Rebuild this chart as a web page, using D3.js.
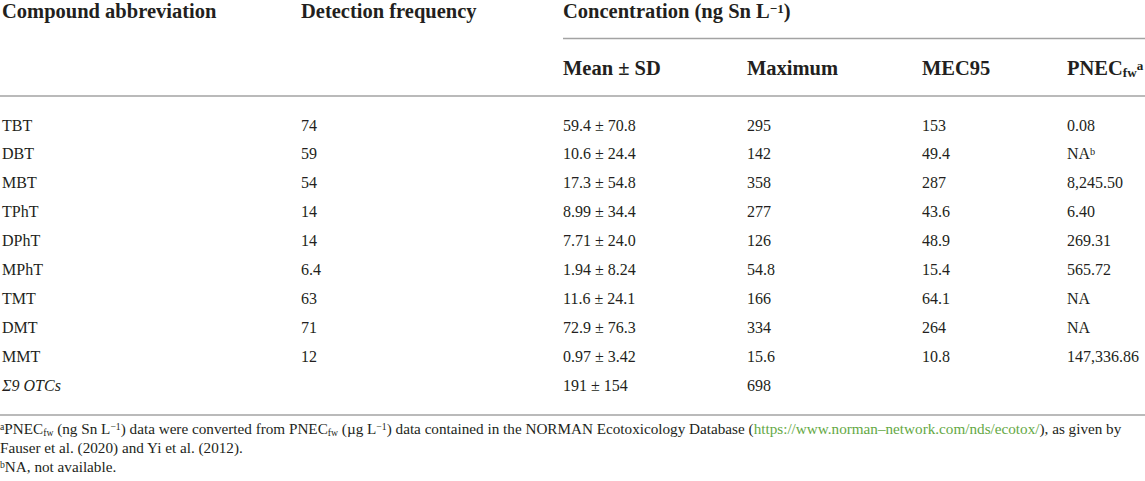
<!DOCTYPE html>
<html>
<head>
<meta charset="utf-8">
<script src="https://cdn.jsdelivr.net/npm/d3@7"></script>
<style>
  body { margin: 0; background: #fff; }
  svg { display: block; font-family: "Liberation Serif", "Times New Roman", serif; }
</style>
</head>
<body>
<div id="table"></div>
<script>
// table contents
const compounds = ["TBT", "DBT", "MBT", "TPhT", "DPhT", "MPhT", "TMT", "DMT", "MMT"];
const detectionFreq = ["74", "59", "54", "14", "14", "6.4", "63", "71", "12"];
const meanSD = ["59.4 ± 70.8", "10.6 ± 24.4", "17.3 ± 54.8", "8.99 ± 34.4", "7.71 ± 24.0",
  "1.94 ± 8.24", "11.6 ± 24.1", "72.9 ± 76.3", "0.97 ± 3.42"];
const maximum = ["295", "142", "358", "277", "126", "54.8", "166", "334", "15.6"];
const mec95 = ["153", "49.4", "287", "43.6", "48.9", "15.4", "64.1", "264", "10.8"];
const pnecFw = ["0.08", "NA", "8,245.50", "6.40", "269.31", "565.72", "NA", "NA", "147,336.86"];
const pnecNote = ["", "b", "", "", "", "", "", "", ""];

const totalLabel = "Σ9 OTCs";
const totalMean = "191 ± 154";
const totalMax = "698";

const columns = ["compound", "freq", "mean", "max", "mec", "pnec"];

const width = 1145, height = 481;
const textColor = "#231f20";
const ruleColor = "#a3a3a3";
const linkColor = "#64a844";

const svg = d3.select("#table").append("svg")
  .attr("width", width)
  .attr("height", height);

// column positions
const x = d3.scaleOrdinal()
  .domain(columns)
  .range([2, 301, 563, 747, 922, 1067]);

// body rows
const rowKeys = compounds.concat([totalLabel]);
const y = d3.scaleBand()
  .domain(rowKeys)
  .range([110.5, 399.5]);

// append rich text made of segments {t, s}
function rich(sel, parts) {
  parts.forEach((p) => {
    const ts = sel.append("tspan").text(p.t);
    if (p.s === "sup") ts.attr("baseline-shift", "40%").attr("font-size", "64%");
    if (p.s === "sub") ts.attr("baseline-shift", "-18%").attr("font-size", "64%");
    if (p.s === "link") ts.attr("fill", linkColor);
    if (p.s === "i") ts.attr("font-style", "italic");
  });
  return sel;
}

// rules
const rules = [
  { x1: 563, x2: width, y: 38.5 },
  { x1: 0, x2: width, y: 96 },
  { x1: 0, x2: width, y: 415 },
];
svg.selectAll("line.rule")
  .data(rules)
  .enter()
  .append("line")
  .attr("class", "rule")
  .attr("x1", (d) => d.x1)
  .attr("x2", (d) => d.x2)
  .attr("y1", (d) => d.y)
  .attr("y2", (d) => d.y)
  .attr("stroke", ruleColor)
  .attr("stroke-width", 1.6);

// header
const head = svg.append("g")
  .attr("font-weight", "bold")
  .attr("font-size", "20.5px")
  .attr("fill", textColor);

head.append("text").attr("x", x("compound")).attr("y", 18).text("Compound abbreviation");
head.append("text").attr("x", x("freq")).attr("y", 18).text("Detection frequency");
rich(head.append("text").attr("x", x("mean")).attr("y", 18), [
  { t: "Concentration (ng Sn L" }, { t: "−1", s: "sup" }, { t: ")" },
]);
head.append("text").attr("x", x("mean")).attr("y", 75).text("Mean ± SD");
head.append("text").attr("x", x("max")).attr("y", 75).text("Maximum");
head.append("text").attr("x", x("mec")).attr("y", 75).text("MEC95");
rich(head.append("text").attr("x", x("pnec")).attr("y", 75), [
  { t: "PNEC" }, { t: "fw", s: "sub" }, { t: "a", s: "sup" },
]);

// body
const body = svg.append("g")
  .attr("font-size", "16px")
  .attr("fill", textColor);

const rowData = compounds.map((c, i) => ({
  key: c,
  cells: [
    { col: "compound", parts: [{ t: c }] },
    { col: "freq", parts: [{ t: detectionFreq[i] }] },
    { col: "mean", parts: [{ t: meanSD[i] }] },
    { col: "max", parts: [{ t: maximum[i] }] },
    { col: "mec", parts: [{ t: mec95[i] }] },
    { col: "pnec", parts: pnecNote[i] ? [{ t: pnecFw[i] }, { t: pnecNote[i], s: "sup" }] : [{ t: pnecFw[i] }] },
  ],
}));
rowData.push({
  key: totalLabel,
  cells: [
    { col: "compound", parts: [{ t: totalLabel, s: "i" }] },
    { col: "mean", parts: [{ t: totalMean }] },
    { col: "max", parts: [{ t: totalMax }] },
  ],
});

const rows = body.selectAll("g.row")
  .data(rowData)
  .enter()
  .append("g")
  .attr("class", "row")
  .attr("transform", (d) => "translate(0," + (y(d.key) + y.bandwidth() / 2) + ")");

rows.selectAll("text")
  .data((d) => d.cells)
  .enter()
  .append("text")
  .attr("x", (d) => x(d.col))
  .attr("dy", "0.35em")
  .each(function (d) {
    rich(d3.select(this), d.parts);
  });

// footnotes
const notes = [
  [
    { t: "a", s: "sup" }, { t: "PNEC" }, { t: "fw", s: "sub" }, { t: " (ng Sn L" }, { t: "−1", s: "sup" },
    { t: ") data were converted from PNEC" }, { t: "fw", s: "sub" }, { t: " (µg L" }, { t: "−1", s: "sup" },
    { t: ") data contained in the NORMAN Ecotoxicology Database (" },
    { t: "https://www.norman–network.com/nds/ecotox/", s: "link" },
    { t: "), as given by" },
  ],
  [{ t: "Fauser et al. (2020) and Yi et al. (2012)." }],
  [{ t: "b", s: "sup" }, { t: "NA, not available." }],
];

const foot = svg.append("g")
  .attr("font-size", "15.2px")
  .attr("fill", textColor);

foot.selectAll("text")
  .data(notes)
  .enter()
  .append("text")
  .attr("x", 0)
  .attr("y", (d, i) => 434 + i * 19)
  .each(function (d) {
    rich(d3.select(this), d);
  });
</script>
</body>
</html>
